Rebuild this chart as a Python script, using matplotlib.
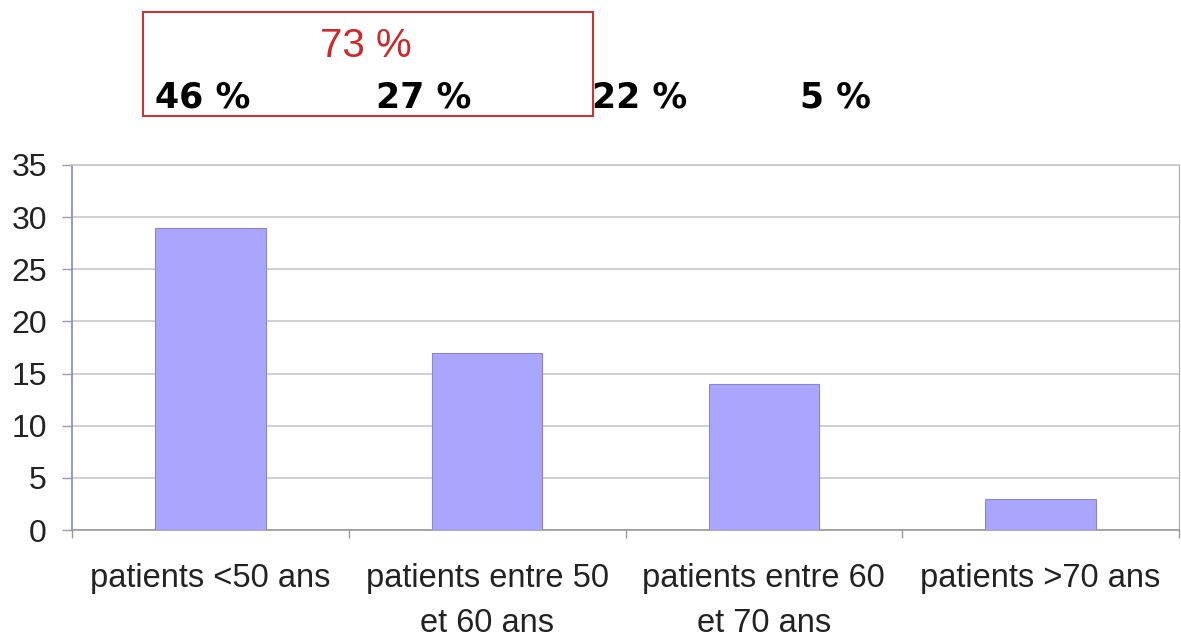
import matplotlib
matplotlib.use("Agg")
import matplotlib.pyplot as plt
from matplotlib.patches import Rectangle
import numpy as np

categories = ["patients <50 ans", "patients entre 50\net 60 ans",
              "patients entre 60\net 70 ans", "patients >70 ans"]
values = [29, 17, 14, 3]
pct_labels = ["46 %", "27 %", "22 %", "5 %"]
group_label = "73 %"
yticks = [0, 5, 10, 15, 20, 25, 30, 35]

W, H = 1181, 637
fig = plt.figure(figsize=(W / 100, H / 100), dpi=100)
fig.patch.set_facecolor("white")

ax = fig.add_axes([72 / W, 1 - 530 / H, (1179 - 72) / W, (530 - 165) / H])
x = np.arange(len(values))
ax.bar(x, values, width=0.4, color="#aaa6fe", edgecolor="#8a86c8", linewidth=0.8, zorder=3)

ax.set_xlim(-0.5, len(values) - 0.5)
ax.set_ylim(0, 35)
ax.set_yticks(yticks)
ax.set_yticklabels([str(v) for v in yticks], fontsize=23, family="Liberation Sans", color="#222222")
ax.yaxis.grid(True, color="#c8c8c8", linewidth=1.2, zorder=0)
ax.set_axisbelow(True)
ax.tick_params(axis="y", length=7, width=1, color="#9a9ab8", pad=11)

ax.set_xticks(x)
ax.set_xticklabels(categories, fontsize=23.5, family="Liberation Sans", color="#222222", linespacing=1.55)
ax.set_xticks(np.arange(-0.5, len(values), 1.0), minor=True)
ax.tick_params(axis="x", which="major", length=0, pad=24)
ax.tick_params(axis="x", which="minor", length=6, width=1, color="#999999")

ax.spines["left"].set_color("#8888c8")
ax.spines["left"].set_linewidth(1.2)
ax.spines["bottom"].set_color("#999999")
ax.spines["bottom"].set_linewidth(1.2)
ax.spines["right"].set_color("#aaaaaa")
ax.spines["top"].set_color("#c8c8c8")
ax.spines["top"].set_linewidth(1.2)

# percentage annotations above the chart
pct_x = [155, 376, 592, 800]
for px, lab in zip(pct_x, pct_labels):
    fig.text(px / W, 1 - 97 / H, lab, fontsize=25, fontweight="bold",
             family="DejaVu Sans", ha="left", va="center", color="black")

fig.patches.append(Rectangle((143 / W, 1 - 116 / H), (593 - 143) / W, (116 - 12) / H,
                             transform=fig.transFigure, fill=False,
                             edgecolor="#cc3333", linewidth=1.5))
fig.text(366 / W, 1 - 46 / H, group_label, fontsize=29, family="Liberation Sans",
         ha="center", va="center", color="#cc2a2a")

fig.savefig("out.png", dpi=100, facecolor="white")
